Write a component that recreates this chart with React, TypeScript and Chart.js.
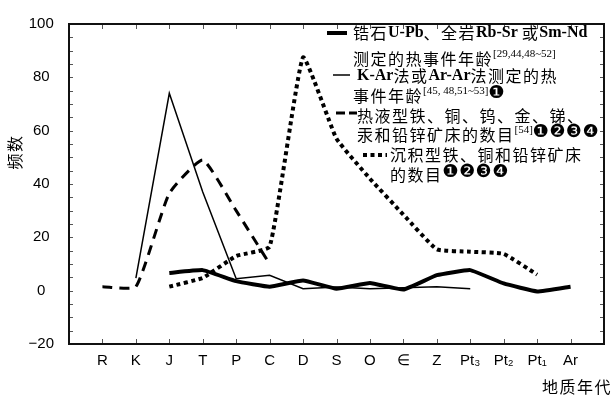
import React, { useEffect, useRef } from 'react';
import { Chart, registerables } from 'chart.js';
Chart.register(...registerables);

const categories = ['R', 'K', 'J', 'T', 'P', 'C', 'D', 'S', 'O', '∈', 'Z', 'Pt₃', 'Pt₂', 'Pt₁', 'Ar'];
const yTicks = [-20, 0, 20, 40, 60, 80, 100];

// 锆石U-Pb、全岩Rb-Sr 或Sm-Nd 测定的热事件年龄
const zirconAges = [null, null, 6.6, 7.7, 3.6, 1.5, 3.8, 0.7, 2.9, 0.4, 5.8, 7.7, 2.7, -0.3, 1.5];
// K-Ar法或Ar-Ar法测定的热事件年龄
const kArAges = [null, 4.7, 74, 37, 4.5, 5.8, 0.7, 1.4, 0.7, 1.1, 1.5, 0.7, null, null, null];
// 热液型矿床的数目
const hydroDeposits = [1.5, 1.5, 36.5, 49, 30, 10, null, null, null, null, null, null, null, null, null];
// 沉积型矿床的数目
const sedDeposits = [null, null, 1.5, 4.8, 13, 16.5, 87.5, 57, 42, 28.5, 15.5, 14.6, 13.8, 6, null];

const toPoints = (arr: (number | null)[]) => arr.map((v, i) => ({ x: i + 1, y: v }));

const CJK = "'Noto Sans CJK SC'";
const SERIF = "'Liberation Serif'";
const DING = "'DejaVu Sans'";

type Run = { t: string; f: string; ls?: string; dy?: number };
const cj = (t: string): Run => ({ t, f: `16px ${CJK}`, ls: '1.5px' });
const la = (t: string): Run => ({ t, f: `bold 16px ${SERIF}` });
const sup = (t: string): Run => ({ t, f: `11px ${SERIF}`, dy: -5 });
const circ = (t: string): Run => ({ t, f: `18px ${DING}`, ls: '0.5px', dy: -3 });

function drawRuns(ctx: CanvasRenderingContext2D, x: number, y: number, runs: Run[]) {
  for (const r of runs) {
    ctx.font = r.f;
    (ctx as any).letterSpacing = r.ls || '0px';
    ctx.fillText(r.t, x, y + (r.dy || 0));
    x += ctx.measureText(r.t).width;
  }
  (ctx as any).letterSpacing = '0px';
}

const framePlugin = {
  id: 'frame',
  afterDraw(chart: any) {
    const ctx: CanvasRenderingContext2D = chart.ctx;
    const { left, right, top, bottom } = chart.chartArea;
    const xs = chart.scales.x;
    const ys = chart.scales.y;
    ctx.save();
    // ticks
    ctx.strokeStyle = '#555';
    ctx.lineWidth = 1;
    ctx.beginPath();
    for (let i = 1; i <= categories.length; i++) {
      const x = Math.round(xs.getPixelForValue(i)) + 0.5;
      ctx.moveTo(x, bottom);
      ctx.lineTo(x, bottom - 5);
      ctx.moveTo(x, top);
      ctx.lineTo(x, top + 5);
    }
    for (let v = -20; v <= 100; v += 5) {
      const y = Math.round(ys.getPixelForValue(v)) + 0.5;
      ctx.moveTo(left, y);
      ctx.lineTo(left + 4, y);
      ctx.moveTo(right, y);
      ctx.lineTo(right - 4, y);
    }
    ctx.stroke();
    // frame
    ctx.strokeStyle = '#111';
    ctx.lineWidth = 2;
    ctx.strokeRect(left, top, right - left, bottom - top);

    // legend
    ctx.fillStyle = '#000';
    ctx.textBaseline = 'middle';
    ctx.textAlign = 'left';
    const sample = (x1: number, x2: number, y: number, w: number, dash: number[]) => {
      ctx.save();
      ctx.strokeStyle = '#000';
      ctx.lineWidth = w;
      ctx.setLineDash(dash);
      ctx.beginPath();
      ctx.moveTo(x1, y);
      ctx.lineTo(x2, y);
      ctx.stroke();
      ctx.restore();
    };
    sample(327, 347, 33, 4, []);
    drawRuns(ctx, 353, 33, [cj('锆石'), la('U-Pb'), cj('、全岩'), la('Rb-Sr '), cj('或'), la('Sm-Nd')]);
    drawRuns(ctx, 353, 59, [cj('测定的热事件年龄'), sup('[29,44,48~52]')]);
    sample(333, 350, 75, 1.5, []);
    drawRuns(ctx, 357, 76, [la('K-Ar'), cj('法或'), la('Ar-Ar'), cj('法测定的热')]);
    drawRuns(ctx, 353, 96, [cj('事件年龄'), sup('[45, 48,51~53]'), circ('❶')]);
    sample(336, 357, 113, 3, [9, 4]);
    drawRuns(ctx, 357, 116, [cj('热液型铁、铜、钨、金、锑、')]);
    drawRuns(ctx, 357, 135, [cj('汞和铅锌矿床的数目'), sup('[54]'), circ('❶❷❸❹')]);
    sample(363, 387, 155, 4, [4, 3.5]);
    drawRuns(ctx, 390, 155, [cj('沉积型铁、铜和铅锌矿床')]);
    drawRuns(ctx, 390, 175, [cj('的数目'), circ('❶❷❸❹')]);

    // axis titles
    ctx.font = `16px ${CJK}`;
    (ctx as any).letterSpacing = '1.5px';
    ctx.textAlign = 'right';
    ctx.fillText('地质年代', 612, 387);
    ctx.save();
    ctx.translate(15, 152);
    ctx.rotate(-Math.PI / 2);
    ctx.textAlign = 'center';
    ctx.fillText('频数', 0, 0);
    ctx.restore();
    ctx.restore();
  },
};

export default function App() {
  const ref = useRef<HTMLCanvasElement>(null);
  useEffect(() => {
    const chart = new Chart(ref.current!, {
      type: 'line',
      data: {
        datasets: [
          { label: 'zircon', data: toPoints(zirconAges), borderColor: '#000', borderWidth: 4, pointRadius: 0, tension: 0.1, spanGaps: false },
          { label: 'kar', data: toPoints(kArAges), borderColor: '#000', borderWidth: 1.5, pointRadius: 0, tension: 0, spanGaps: false },
          { label: 'hydro', data: toPoints(hydroDeposits), borderColor: '#000', borderWidth: 3, borderDash: [10, 7], pointRadius: 0, tension: 0.15, spanGaps: false },
          { label: 'sed', data: toPoints(sedDeposits), borderColor: '#000', borderWidth: 4, borderDash: [4, 3.5], pointRadius: 0, tension: 0.12, spanGaps: false },
        ] as any,
      },
      options: {
        responsive: false,
        animation: false,
        devicePixelRatio: 1,
        layout: { padding: { left: 0, right: 3, top: 18, bottom: 0 } },
        plugins: { legend: { display: false }, tooltip: { enabled: false } },
        scales: {
          x: {
            type: 'linear',
            min: 0,
            max: 16,
            grid: { display: false, drawTicks: false },
            border: { display: false },
            ticks: {
              stepSize: 1,
              autoSkip: false,
              maxRotation: 0,
              color: '#000',
              padding: 8,
              font: { family: 'Liberation Sans', size: 15 },
              callback: (v: any) => categories[Number(v) - 1] ?? '',
            },
            afterFit: (s: any) => { s.height = 51; },
          },
          y: {
            min: -20,
            max: 100,
            grid: { display: false, drawTicks: false },
            border: { display: false },
            afterBuildTicks: (s: any) => { s.ticks = yTicks.map((v) => ({ value: v })); },
            ticks: {
              color: '#000',
              padding: 15,
              crossAlign: 'center',
              font: { family: 'Liberation Sans', size: 15 },
              callback: (v: any) => (Number(v) < 0 ? '−' + Math.abs(Number(v)) : String(v)),
            },
            afterFit: (s: any) => { s.width = 69; },
          },
        },
      } as any,
      plugins: [framePlugin],
    });
    return () => chart.destroy();
  }, []);
  return (
    <div style={{ position: 'fixed', left: 0, top: 0, width: 612, height: 395, background: '#fff' }}>
      <canvas ref={ref} width={612} height={395} style={{ width: 612, height: 395 }} />
    </div>
  );
}
